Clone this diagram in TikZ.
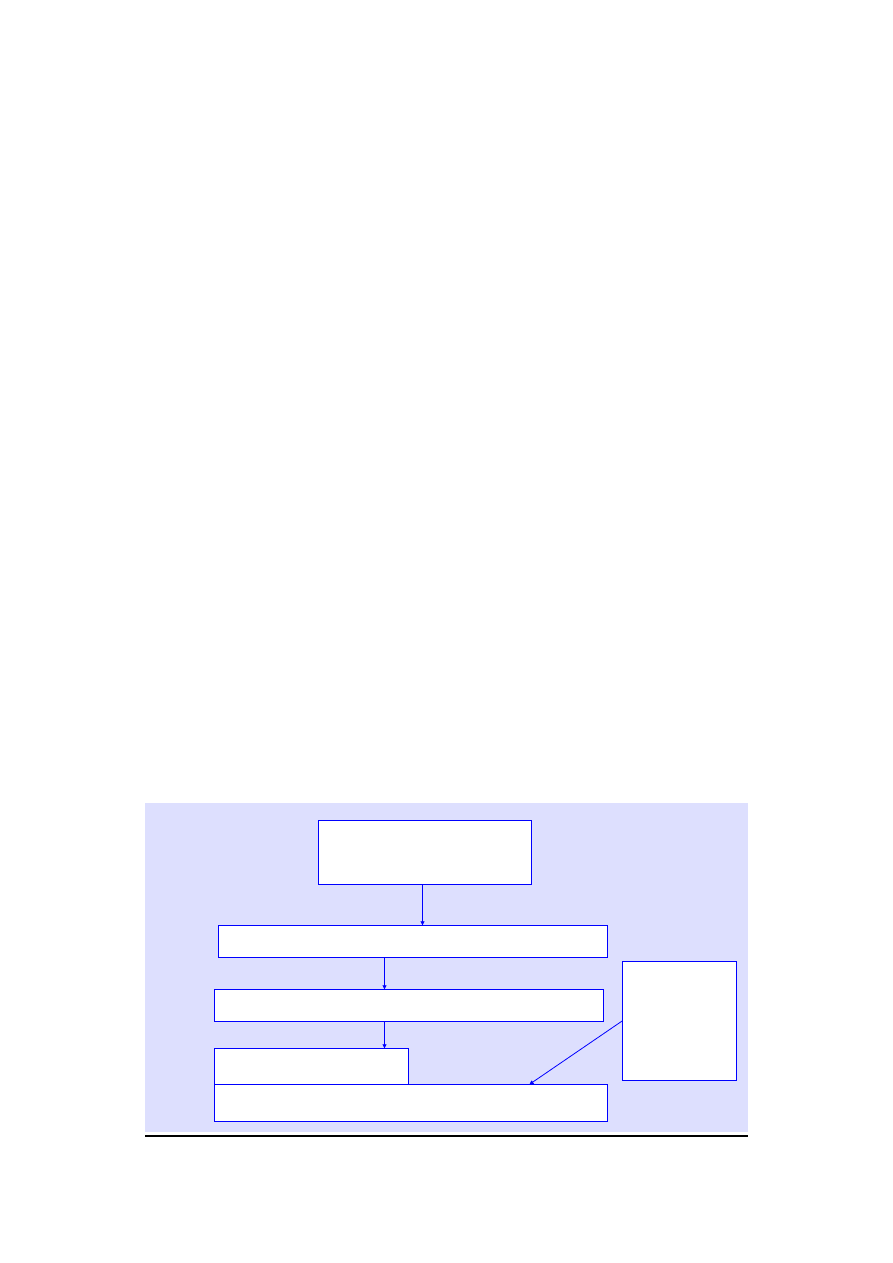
\documentclass[tikz,border=0pt]{standalone}
\usetikzlibrary{arrows.meta}
\definecolor{bgc}{RGB}{221,223,254}
\begin{document}
\begin{tikzpicture}[x=1pt,y=-1pt,
  box/.style={draw=blue,fill=white,line width=1pt,inner sep=0pt,outer sep=0pt,rectangle},
  conn/.style={draw=blue,line width=0.8pt,-{Triangle[length=4pt,width=4pt]}}]
\useasboundingbox (0,0) rectangle (893,1263);
\fill[bgc] (145,803) rectangle (748,1132);
\draw[line width=1.3pt,black] (145,1136) -- (748,1136);
\node[box,minimum width=213pt,minimum height=64pt] (top) at (425,852) {};
\node[box,minimum width=389pt,minimum height=32pt] (b2) at (413.2,941.3) {};
\node[box,minimum width=389pt,minimum height=32pt] (b3) at (409.1,1005.3) {};
\node[box,minimum width=114pt,minimum height=119pt] (r) at (679.4,1020.8) {};
\node[box,minimum width=393pt,minimum height=37pt] (b5) at (411.2,1102.8) {};
\node[box,minimum width=194pt,minimum height=36pt] (b4) at (311.6,1066.3) {};
\draw[blue,line width=1pt] (b4.south west) -- (b4.south east);
\coordinate (xa) at (422.5,0);
\coordinate (xb) at (384.5,0);
\coordinate (xc) at (529.5,0);
\draw[conn] (top.south -| xa) -- (b2.north -| xa);
\draw[conn] (b2.south -| xb) -- (b3.north -| xb);
\draw[conn] (b3.south -| xb) -- (b4.north -| xb);
\draw[conn] (r.west) -- (b5.north -| xc);
\end{tikzpicture}
\end{document}
